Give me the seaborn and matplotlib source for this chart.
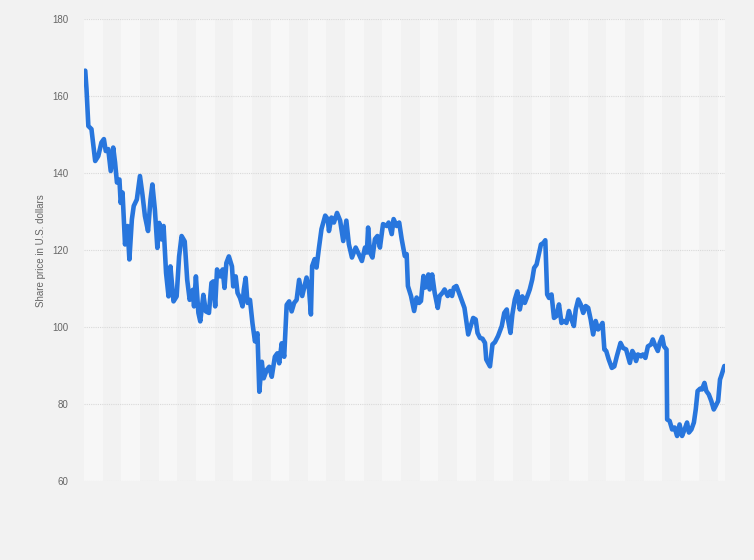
import matplotlib
matplotlib.use("Agg")
import matplotlib.pyplot as plt
import pandas as pd
import seaborn as sns

# Daily share price (day offset from start, USD)
days = [2, 4, 7, 12, 18, 23, 28, 32, 35, 39, 43, 47, 50, 53, 57, 59, 62, 66, 70, 73,
        77, 80, 85, 90, 94, 98, 103, 107, 110, 114, 118, 121, 125, 128, 132, 136, 139, 144, 149, 153,
        157, 162, 166, 170, 175, 177, 180, 184, 187, 192, 196, 201, 205, 208, 211, 214, 219, 223, 226, 229,
        233, 238, 240, 244, 247, 251, 255, 257, 260, 263, 267, 271, 275, 279, 282, 286, 289, 294, 298, 302,
        307, 311, 314, 318, 322, 326, 330, 334, 338, 342, 346, 351, 358, 362, 365, 367, 371, 374, 378, 382,
        388, 392, 394, 398, 402, 407, 412, 417, 422, 426, 431, 437, 442, 447, 452, 455, 457, 460, 464, 468,
        472, 476, 481, 487, 490, 495, 498, 503, 507, 511, 516, 519, 521, 526, 531, 535, 539, 542, 546, 549,
        554, 556, 560, 564, 569, 572, 577, 580, 585, 589, 592, 595, 599, 603, 607, 612, 615, 618, 622, 626,
        630, 633, 637, 641, 645, 647, 653, 657, 661, 666, 672, 676, 680, 682, 686, 689, 693, 697, 701, 705,
        709, 713, 717, 721, 724, 728, 732, 735, 739, 742, 745, 748, 752, 756, 760, 764, 768, 772, 776, 780,
        784, 788, 791, 795, 799, 803, 807, 811, 815, 819, 823, 827, 831, 834, 837, 840, 844, 849, 853, 857,
        860, 863, 867, 872, 875, 878, 882, 885, 888, 891, 896, 899, 903, 907, 912, 915, 918, 923, 926, 930,
        933, 937, 938, 942, 946, 950, 954, 958, 962, 966, 970, 973, 977, 981, 984, 987, 991, 994, 998, 1001,
        1005, 1009, 1013, 1016, 1020, 1023, 1025, 1030]
prices = [166.7, 162.0, 152.3, 151.5, 143.2, 144.5, 148.0, 148.9, 145.8, 146.3, 140.6, 146.7, 142.8, 137.6, 138.4, 132.3, 135.0, 121.5, 126.3, 117.6,
          128.0, 131.5, 133.2, 139.3, 134.5, 128.9, 125.0, 133.2, 137.1, 130.6, 120.6, 127.1, 122.8, 126.3, 114.1, 108.0, 115.8, 106.7, 108.0, 118.4,
          123.7, 122.3, 112.3, 107.1, 109.7, 105.4, 113.2, 103.7, 101.5, 108.4, 104.1, 103.7, 111.5, 111.9, 105.4, 115.0, 113.2, 115.0, 110.2, 116.7,
          118.4, 115.8, 110.6, 113.2, 108.9, 107.6, 105.4, 109.7, 112.8, 106.3, 107.1, 101.0, 96.3, 98.4, 83.2, 91.0, 86.7, 88.9, 89.7, 87.1,
          92.3, 93.2, 90.6, 95.8, 92.3, 105.8, 106.7, 104.1, 106.3, 107.1, 112.3, 108.1, 112.9, 109.8, 103.3, 115.9, 117.7, 115.5, 120.7, 125.5,
          129.0, 128.1, 125.0, 128.5, 127.2, 129.7, 127.7, 122.4, 127.7, 121.6, 118.1, 120.7, 119.0, 117.2, 120.7, 119.4, 125.9, 119.4, 118.1, 122.9,
          123.7, 120.7, 126.8, 126.3, 127.2, 124.2, 128.1, 126.3, 127.2, 122.9, 118.5, 119.0, 110.7, 108.1, 104.2, 107.7, 106.3, 106.8, 113.3, 110.3,
          113.7, 109.8, 113.7, 109.0, 105.0, 108.1, 109.0, 109.8, 108.1, 109.4, 108.1, 110.3, 110.7, 109.0, 107.2, 105.0, 101.6, 98.1, 100.3, 102.4,
          102.0, 98.5, 97.2, 97.0, 95.9, 91.6, 89.8, 95.5, 96.1, 97.7, 100.3, 103.7, 104.6, 102.0, 98.5, 103.3, 107.2, 109.3, 104.6, 108.0,
          106.3, 108.0, 109.8, 112.4, 115.4, 116.3, 119.3, 121.5, 121.9, 122.6, 108.5, 107.6, 108.5, 102.4, 102.9, 105.9, 101.1, 101.6, 101.1, 104.2,
          102.0, 100.3, 104.6, 107.2, 105.9, 103.7, 105.5, 105.0, 102.0, 98.1, 101.6, 99.4, 100.3, 101.1, 94.2, 93.8, 91.6, 89.4, 89.8, 92.4,
          94.2, 95.9, 94.6, 94.2, 92.4, 90.7, 93.8, 92.9, 91.2, 92.9, 92.4, 92.9, 92.0, 95.0, 95.5, 96.8, 95.5, 93.8, 95.9, 97.5,
          95.0, 94.2, 76.0, 75.6, 73.4, 73.9, 71.7, 74.7, 71.7, 73.4, 75.2, 72.6, 73.4, 75.2, 78.6, 83.4, 84.0, 83.8, 85.5, 83.4,
          82.5, 80.8, 78.6, 79.5, 80.8, 86.4, 87.3, 89.9]
y_ticks = [60, 80, 100, 120, 140, 160, 180]
y_label = "Share price in U.S. dollars"

df = pd.DataFrame({"day": days, "price": prices})

sns.set_theme(style="white")
plt.rcParams["font.family"] = ["Liberation Sans", "DejaVu Sans"]

fig = plt.figure(figsize=(7.54, 5.6), dpi=100, facecolor="#f2f2f2")
ax = fig.add_axes([0.1114, 0.1411, 0.8501, 0.8241])
ax.set_facecolor("#f2f2f2")

# alternating vertical bands (30 days each)
for i in range(0, 36, 2):
    ax.axvspan(i * 30, (i + 1) * 30, color="#f7f7f7", lw=0, zorder=0)

sns.lineplot(data=df, x="day", y="price", ax=ax, color="#2876dd", linewidth=3.3,
             solid_joinstyle="round", solid_capstyle="round", zorder=3)

ax.set_xlim(0, 1031)
ax.set_ylim(60, 180)
ax.set_yticks(y_ticks)
ax.set_xticks([])
ax.set_xlabel("")
ax.set_ylabel(y_label, fontsize=7, color="#666666", labelpad=5)
ax.tick_params(axis="y", length=0, pad=11, labelsize=7, labelcolor="#666666")
ax.set_axisbelow(True)
ax.grid(axis="y", color="#d9d9d9", linestyle=(0, (1, 1)), linewidth=0.8)
ax.grid(axis="x", visible=False)
for s in ax.spines.values():
    s.set_visible(False)

fig.savefig("out.png", dpi=100, facecolor=fig.get_facecolor())
